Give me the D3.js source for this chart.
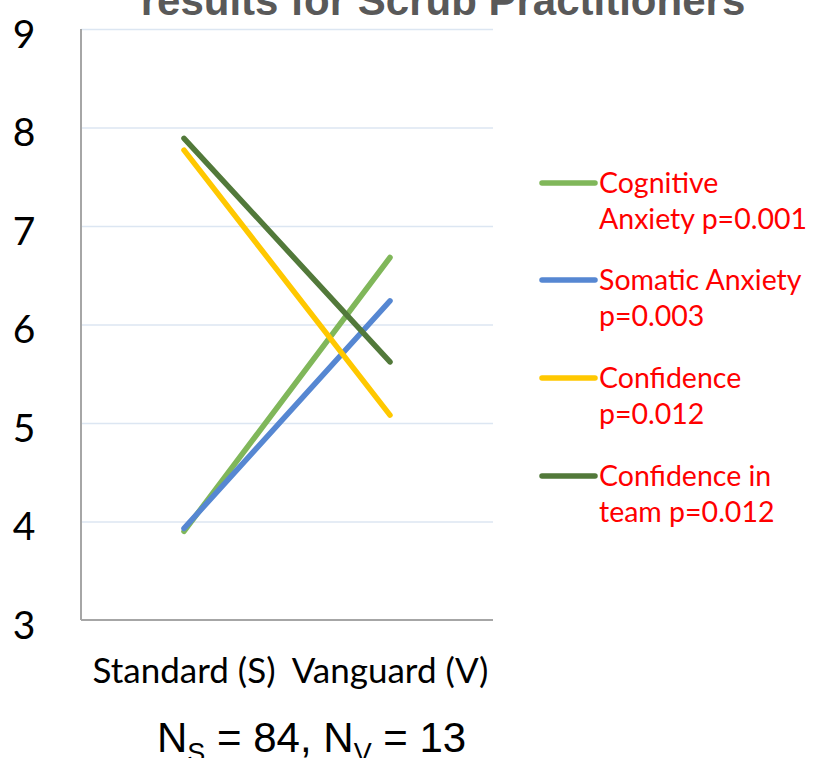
<!DOCTYPE html>
<html><head><meta charset="utf-8">
<script src="https://cdnjs.cloudflare.com/ajax/libs/d3/7.8.5/d3.min.js"></script>
<style>body{margin:0;background:#fff;} svg{display:block;}</style>
</head><body>
<svg id="chart" width="813" height="758"></svg>
<script>
const categories = ["Standard (S)", "Vanguard (V)"];
const seriesNames = ["Cognitive\nAnxiety p=0.001", "Somatic Anxiety\np=0.003", "Confidence\np=0.012", "Confidence in\nteam p=0.012"];
const cognitiveAnxiety = [3.9, 6.68];
const somaticAnxiety = [3.93, 6.24];
const confidence = [7.77, 5.08];
const confidenceInTeam = [7.89, 5.62];
const seriesColors = ["#80B75A", "#5687D2", "#FFC800", "#52793A"];
const yTicks = [3, 4, 5, 6, 7, 8, 9];
const titleText = "results for Scrub Practitioners";

const seriesData = [cognitiveAnxiety, somaticAnxiety, confidence, confidenceInTeam];
const svg = d3.select("#chart");
const pL = 81, pR = 493, pT = 29, pB = 620;

const x = d3.scaleBand().domain(categories).range([pL, pR]);
const y = d3.scaleLinear().domain([3, 9]).range([pB, pT]);

// Title (partially clipped at top)
svg.append("text").attr("x", 443).attr("y", 15).attr("text-anchor", "middle")
  .attr("font-family", "Liberation Sans, Arial, sans-serif").attr("font-weight", "bold")
  .attr("font-size", 42).attr("fill", "#595959").text(titleText);

// gridlines
svg.append("g").attr("transform", `translate(${pL},0)`)
  .call(d3.axisLeft(y).tickValues(yTicks.filter(v => v > 3)).tickSize(-(pR - pL)).tickFormat(""))
  .call(g => g.select(".domain").remove())
  .call(g => g.selectAll("line").attr("stroke", "#DCE6F2").attr("stroke-width", 1.5));

// y tick labels
svg.append("g").attr("transform", `translate(${pL},0)`)
  .call(d3.axisLeft(y).tickValues(yTicks).tickSize(0).tickPadding(57).tickFormat(d3.format("d")))
  .call(g => g.select(".domain").remove())
  .call(g => g.selectAll("text").attr("font-family", "Lato, sans-serif").attr("font-size", 39).attr("fill", "#000").attr("text-anchor", "middle").attr("dy", "0.47em"));

// axes lines
svg.append("line").attr("x1", pL).attr("x2", pL).attr("y1", pT).attr("y2", pB).attr("stroke", "#A6A6A6").attr("stroke-width", 2);
svg.append("line").attr("x1", pL).attr("x2", pR).attr("y1", pB).attr("y2", pB).attr("stroke", "#A6A6A6").attr("stroke-width", 2);

// x labels
svg.append("g").attr("transform", `translate(0,${pB})`)
  .call(d3.axisBottom(x).tickSize(0).tickPadding(38))
  .call(g => g.select(".domain").remove())
  .call(g => g.selectAll("text").attr("font-family", "Lato, sans-serif").attr("font-size", 35).attr("fill", "#000"));

// lines
const line = d3.line().x((d, i) => x(categories[i]) + x.bandwidth() / 2).y(d => y(d));
seriesData.forEach((vals, i) => {
  svg.append("path").datum(vals).attr("d", line).attr("fill", "none")
    .attr("stroke", seriesColors[i]).attr("stroke-width", 5.5).attr("stroke-linecap", "round");
});

// legend
const legY = [183, 280, 378, 476];
seriesNames.forEach((name, i) => {
  const g = svg.append("g").attr("transform", `translate(0,${legY[i]})`);
  g.append("line").attr("x1", 542).attr("x2", 595).attr("y1", 0).attr("y2", 0)
    .attr("stroke", seriesColors[i]).attr("stroke-width", 5.5).attr("stroke-linecap", "round");
  const t = g.append("text").attr("x", 599).attr("y", 10)
    .attr("font-family", "Lato, sans-serif").attr("font-size", 28.5).attr("fill", "#FF0000");
  name.split("\n").forEach((ln, j) => {
    t.append("tspan").attr("x", 599).attr("dy", j === 0 ? 0 : 36).text(ln);
  });
});

// sample sizes
const nt = svg.append("text").attr("x", 157).attr("y", 752)
  .attr("font-family", "Liberation Sans, Arial, sans-serif").attr("font-size", 42).attr("fill", "#000");
nt.append("tspan").text("N");
nt.append("tspan").attr("font-size", 27).attr("dy", 10).text("S");
nt.append("tspan").attr("dy", -10).text(" = 84, N");
nt.append("tspan").attr("font-size", 27).attr("dy", 10).text("V");
nt.append("tspan").attr("dy", -10).text(" = 13");
</script>
</body></html>
